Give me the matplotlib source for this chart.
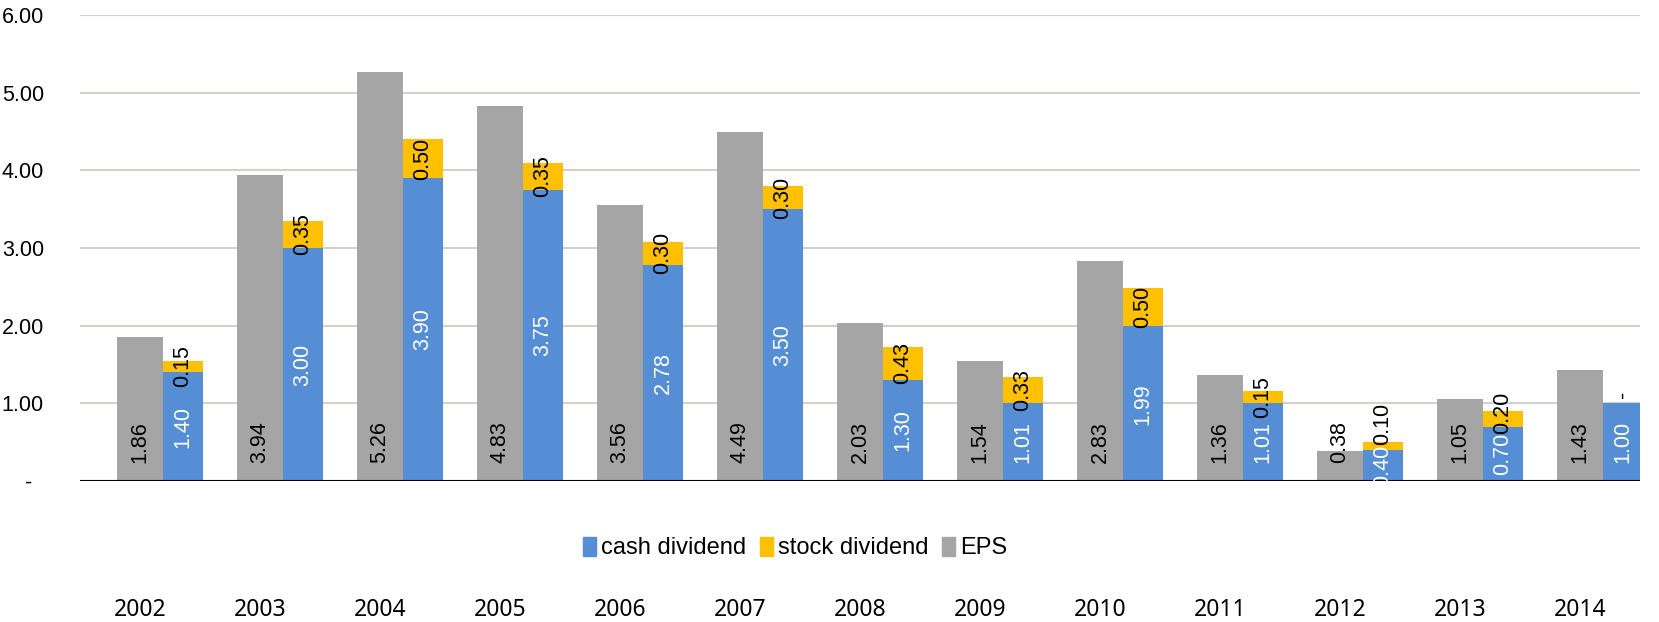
import matplotlib
matplotlib.use("Agg")
import matplotlib.pyplot as plt
from matplotlib.patches import Patch

years = ["2002", "2003", "2004", "2005", "2006", "2007", "2008", "2009", "2010", "2011", "2012", "2013", "2014"]
eps = [1.86, 3.94, 5.26, 4.83, 3.56, 4.49, 2.03, 1.54, 2.83, 1.36, 0.38, 1.05, 1.43]
cash_dividend = [1.40, 3.00, 3.90, 3.75, 2.78, 3.50, 1.30, 1.01, 1.99, 1.01, 0.40, 0.70, 1.00]
stock_dividend = [0.15, 0.35, 0.50, 0.35, 0.30, 0.30, 0.43, 0.33, 0.50, 0.15, 0.10, 0.20, 0.0]
yticks = [0, 1, 2, 3, 4, 5, 6]
ytick_labels = ["-  ", "1.00", "2.00", "3.00", "4.00", "5.00", "6.00"]

C_BLUE = "#558ED5"
C_YEL = "#FFC000"
C_GRAY = "#A5A5A5"
FONT = "Liberation Sans"

W, H = 1659, 622
fig = plt.figure(figsize=(W / 100, H / 100), dpi=100)
ax = fig.add_axes([80 / W, 1 - 481 / H, (1640 - 80) / W, (481 - 15) / H])

x = list(range(len(years)))
gw = 0.383
bw = 0.333
bx = [i + gw / 2 for i in x]

ax.bar(x, eps, width=gw, color=C_GRAY, zorder=2)
ax.bar(bx, cash_dividend, width=bw, align="edge", color=C_BLUE, zorder=2)
ax.bar(bx, stock_dividend, width=bw, align="edge", bottom=cash_dividend, color=C_YEL, zorder=2)

fs_val = 15.5
label_len = 0.53  # approx. data height of a rotated "0.00" label
for i in x:
    ax.annotate(f"{eps[i]:.2f}", (i, 0), xytext=(0, 13), textcoords="offset points",
                rotation=90, ha="center", va="bottom", fontsize=fs_val, family=FONT,
                color="black", zorder=4)
    cx = bx[i] + bw / 2
    ax.text(cx, cash_dividend[i] / 2, f"{cash_dividend[i]:.2f}", rotation=90,
            ha="center", va="center", fontsize=fs_val, family=FONT, color="white", zorder=4)
    s = stock_dividend[i]
    if s > 0:
        ys = max(cash_dividend[i] + s / 2, cash_dividend[i] / 2 + label_len)
        lab = f"{s:.2f}"
    else:
        ys = cash_dividend[i] + 0.12
        lab = "-"
    ax.text(cx, ys, lab, rotation=90,
            ha="center", va="center", fontsize=fs_val, family=FONT, color="black", zorder=4)

ax.set_xlim(-0.5, len(years) - 0.5)
ax.set_ylim(0, 6)
ax.set_yticks(yticks)
ax.set_yticklabels(ytick_labels, family=FONT, fontsize=15.5)
ax.set_xticks(x)
ax.set_xticklabels(years, family="Noto Sans", fontsize=16.5)
ax.tick_params(axis="both", length=0)
ax.tick_params(axis="x", pad=84)
ax.tick_params(axis="y", pad=26)
for sp in ax.spines.values():
    sp.set_visible(False)
ax.grid(axis="y", color="#D4D0CC", linewidth=1.5, zorder=0)
ax.set_axisbelow(True)
ax.axhline(0, color="black", linewidth=1.5, zorder=3)

handles = [Patch(color=C_BLUE, label="cash dividend"),
           Patch(color=C_YEL, label="stock dividend"),
           Patch(color=C_GRAY, label="EPS")]
fig.legend(handles=handles, loc="center", bbox_to_anchor=(795 / W, 1 - 548 / H), ncol=3,
           frameon=False, prop={"family": FONT, "size": 17}, handlelength=0.55,
           handleheight=0.9, handletextpad=0.2, columnspacing=0.6)

fig.savefig("out.png", dpi=100)
